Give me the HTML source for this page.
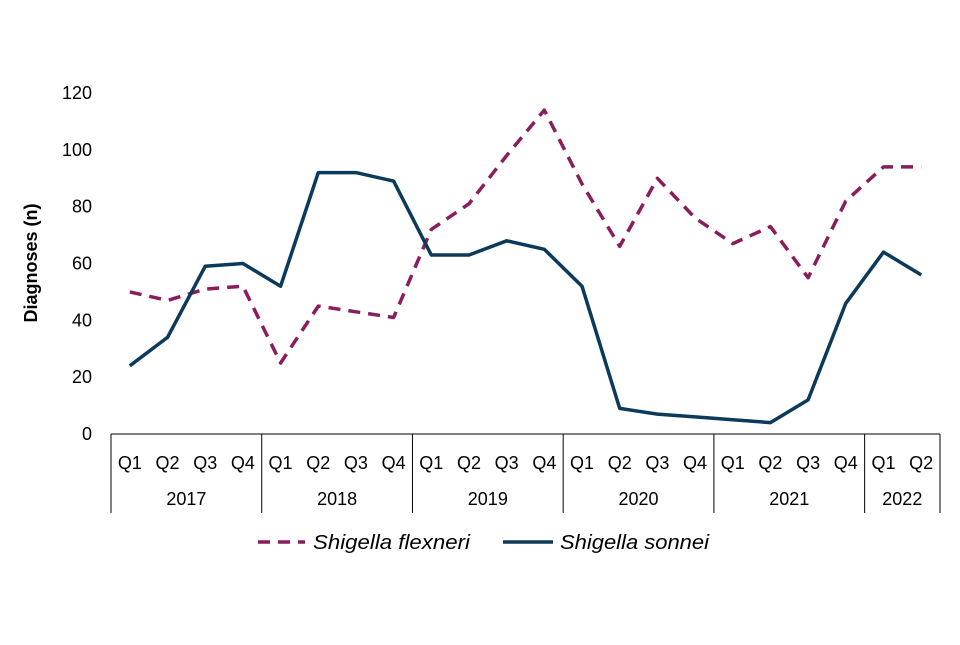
<!DOCTYPE html>
<html><head><meta charset="utf-8"><style>
body{margin:0;background:#fff;font-family:"Liberation Sans",Arial,sans-serif}
svg text{font-family:"Liberation Sans",Arial,sans-serif}
</style></head><body>
<svg id="chart" width="960" height="640" viewBox="0 0 960 640"></svg>
<script>
const quarters=["Q1","Q2","Q3","Q4","Q1","Q2","Q3","Q4","Q1","Q2","Q3","Q4","Q1","Q2","Q3","Q4","Q1","Q2","Q3","Q4","Q1","Q2"];
const years=["2017","2018","2019","2020","2021","2022"];
const yearCounts=[4,4,4,4,4,2];
const flexneri=[50,47,51,52,25,45,43,41,72,81,98,114,88,66,90,76,67,73,55,82,94,94];
const sonnei=[24,34,59,60,52,92,92,89,63,63,68,65,52,9,7,6,5,4,12,46,64,56];
const yTicks=[0,20,40,60,80,100,120];

const svg=document.getElementById('chart');
const NS='http://www.w3.org/2000/svg';
const x0=111,x1=940,y0=434,yTop=93,yMax=120;
const step=(x1-x0)/quarters.length;
const xs=i=>x0+step*(i+0.5);
const ys=v=>y0-(v/yMax)*(y0-yTop);
function mk(tag,attrs,text){const e=document.createElementNS(NS,tag);for(const k in attrs)e.setAttribute(k,attrs[k]);if(text!==undefined)e.textContent=text;svg.appendChild(e);return e;}

yTicks.forEach(t=>{
  const e=mk('text',{x:92,y:ys(t)+6,'text-anchor':'end','font-size':18,fill:'#000'},String(t));
  
  
});
const yt=mk('text',{x:0,y:0,transform:'translate(37,263) rotate(-90)','text-anchor':'middle','font-size':18,'font-weight':'bold',fill:'#000'},'Diagnoses (n)');



const ax=mk('line',{x1:x0,y1:y0,x2:x1,y2:y0,stroke:'#000','stroke-width':1});



quarters.forEach((q,i)=>{
  const e=mk('text',{x:xs(i),y:469,'text-anchor':'middle','font-size':18,fill:'#000'},q);
  
  
});
let idx=0;
const sep=xx=>{const l=mk('line',{x1:xx,y1:y0,x2:xx,y2:513,stroke:'#000','stroke-width':1});
  
  };
sep(x0);
years.forEach((yr,j)=>{
  const start=idx,end=idx+yearCounts[j];
  const cx=x0+step*(start+end)/2;
  const e=mk('text',{x:cx,y:505,'text-anchor':'middle','font-size':18,fill:'#000'},yr);
  
  
  idx=end;
  sep(x0+step*idx);
});

function series(data,color,dash,name){
  const d=data.map((v,i)=>(i?'L':'M')+xs(i).toFixed(1)+' '+ys(v).toFixed(1)).join(' ');
  const p=mk('path',{d:d,fill:'none',stroke:color,'stroke-width':3.5,'stroke-linejoin':'round','stroke-dasharray':dash});
  
  
}
series(flexneri,'#8a1d5c','12 8','series-flexneri-line');
series(sonnei,'#0b3a5a','none','series-sonnei-line');

const l1=mk('line',{x1:258,y1:542,x2:305,y2:542,stroke:'#8a1d5c','stroke-width':3.5,'stroke-dasharray':'12 8'});


const t1=mk('text',{x:313,y:549,'font-size':20,'font-style':'italic',fill:'#000',textLength:157,lengthAdjust:'spacingAndGlyphs'},'Shigella flexneri');


const l2=mk('line',{x1:503,y1:542,x2:553,y2:542,stroke:'#0b3a5a','stroke-width':3.5});


const t2=mk('text',{x:560,y:549,'font-size':20,'font-style':'italic',fill:'#000',textLength:149,lengthAdjust:'spacingAndGlyphs'},'Shigella sonnei');


</script>
</body></html>
